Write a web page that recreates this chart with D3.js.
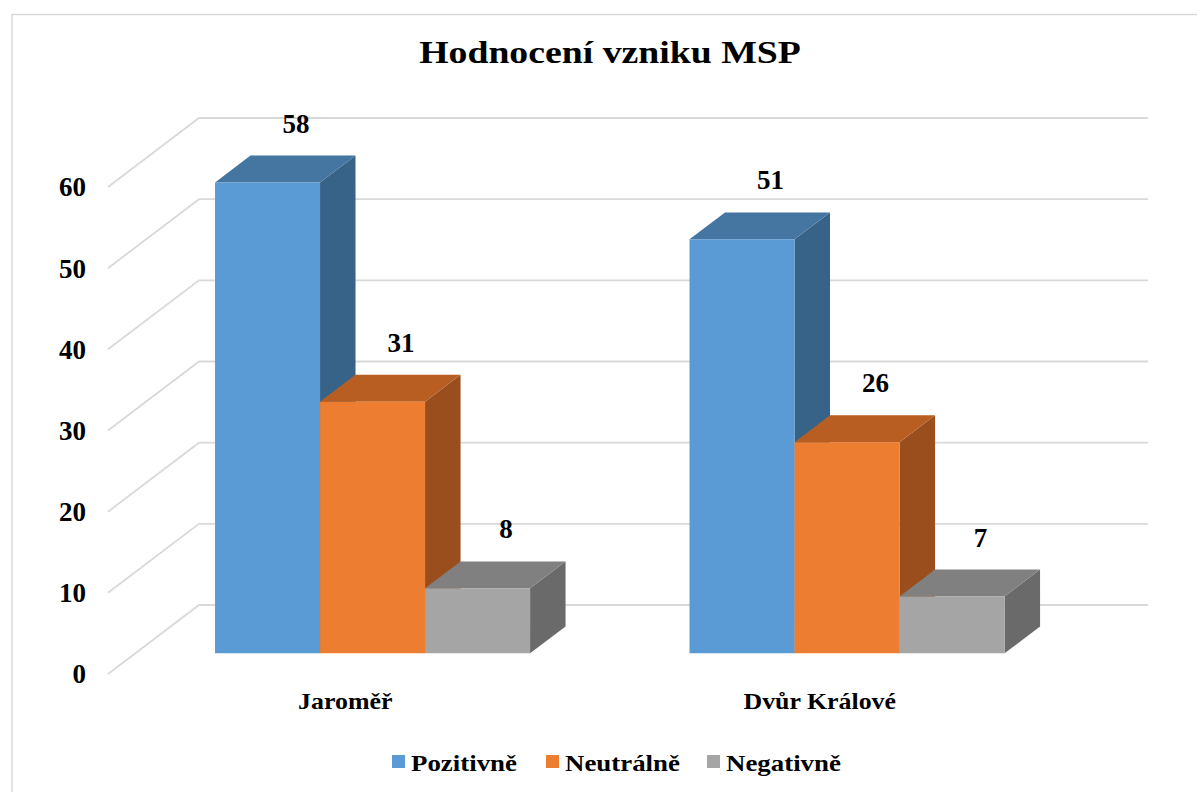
<!DOCTYPE html>
<html>
<head>
<meta charset="utf-8">
<script src="https://cdn.jsdelivr.net/npm/d3@7"></script>
<style>
  body { margin: 0; background: #fff; }
  text { font-family: "Liberation Serif", "Times New Roman", serif; font-weight: bold; fill: #000; }
</style>
</head>
<body>
<svg id="chart" width="1197" height="792"></svg>
<script>
// data
const categories = ["Jaroměř", "Dvůr Králové"];
const series = ["Pozitivně", "Neutrálně", "Negativně"];
const pozitivne = [58, 51];
const neutralne = [31, 26];
const negativne = [8, 7];
const yTicks = [0, 10, 20, 30, 40, 50, 60];
const values = [pozitivne, neutralne, negativne];

const colors = {
  front: ["#5b9bd5", "#ed7d31", "#a5a5a5"],
  top: ["#4575a1", "#b95e22", "#808080"],
  side: ["#386388", "#9a4e1e", "#6a6a6a"]
};

const svg = d3.select("#chart");

// outer chart border
svg.append("rect")
  .attr("x", 12).attr("y", 14.5)
  .attr("width", 1300).attr("height", 900)
  .attr("fill", "none").attr("stroke", "#d9d9d9").attr("stroke-width", 1.5);

// 3d projection: depth d (0 = front, 1 = back) shifts points right and up
const depthX = 91, depthY = -69;
const y = d3.scaleLinear().domain([0, 60]).range([674, 187]);
const x0 = d3.scaleBand().domain(categories).range([108, 1057]);
const bw = x0.bandwidth();
const x1 = d3.scaleBand().domain(series).range([bw * 0.168, bw * 0.832]);
const barFront = 0.3, barBack = 0.69;

const pt = (px, v, d) => [px + d * depthX, y(v) + d * depthY];

// gridlines: left wall diagonals + back wall horizontals
const grid = svg.append("g").attr("stroke", "#d9d9d9").attr("stroke-width", 1.8).attr("fill", "none");
yTicks.forEach(t => {
  const a = pt(108, t, 0), b = pt(108, t, 1), c = pt(1057, t, 1);
  grid.append("polyline").attr("points", [a, b, c].map(p => p.join(",")).join(" "));
});

// y tick labels
svg.append("g").selectAll("text")
  .data(yTicks)
  .join("text")
  .attr("x", 86)
  .attr("y", d => y(d))
  .attr("dy", "0.35em")
  .attr("text-anchor", "end")
  .attr("font-size", 27)
  .text(d => d);

// bars
const bars = svg.append("g");
categories.forEach((cat, ci) => {
  series.forEach((s, si) => {
    const v = values[si][ci];
    const xl = x0(cat) + x1(s), xr = xl + x1.bandwidth();
    const f = [pt(xl, 0, barFront), pt(xr, 0, barFront), pt(xr, v, barFront), pt(xl, v, barFront)];
    const top = [pt(xl, v, barFront), pt(xr, v, barFront), pt(xr, v, barBack), pt(xl, v, barBack)];
    const side = [pt(xr, 0, barFront), pt(xr, 0, barBack), pt(xr, v, barBack), pt(xr, v, barFront)];
    const g = bars.append("g");
    g.append("polygon").attr("points", side.map(p => p.join(",")).join(" ")).attr("fill", colors.side[si]);
    g.append("polygon").attr("points", top.map(p => p.join(",")).join(" ")).attr("fill", colors.top[si]);
    g.append("polygon").attr("points", f.map(p => p.join(",")).join(" ")).attr("fill", colors.front[si]);

    // value label above the bar
    const lp = pt((xl + xr) / 2, v, barBack);
    svg.append("text")
      .attr("x", lp[0] - 7)
      .attr("y", lp[1] - 23)
      .attr("text-anchor", "middle")
      .attr("font-size", 27)
      .text(v);
  });
});

// category labels
svg.append("g").selectAll("text")
  .data(categories)
  .join("text")
  .attr("transform", d => `translate(${x0(d) + bw / 2},709) scale(1.15,1)`)
  .attr("text-anchor", "middle")
  .attr("font-size", 22.5)
  .text(d => d);

// title
svg.append("text")
  .attr("transform", "translate(610,63) scale(1.18,1)")
  .attr("text-anchor", "middle")
  .attr("font-size", 32)
  .text("Hodnocení vzniku MSP");

// legend
const legendX = [392, 546, 707];
const legend = svg.append("g").selectAll("g")
  .data(series)
  .join("g")
  .attr("transform", (d, i) => `translate(${legendX[i]},755)`);
legend.append("rect")
  .attr("width", 13).attr("height", 13)
  .attr("fill", (d, i) => colors.front[i]);
legend.append("text")
  .attr("transform", "translate(19,16) scale(1.12,1)")
  .attr("font-size", 24)
  .text(d => d);
</script>
</body>
</html>
